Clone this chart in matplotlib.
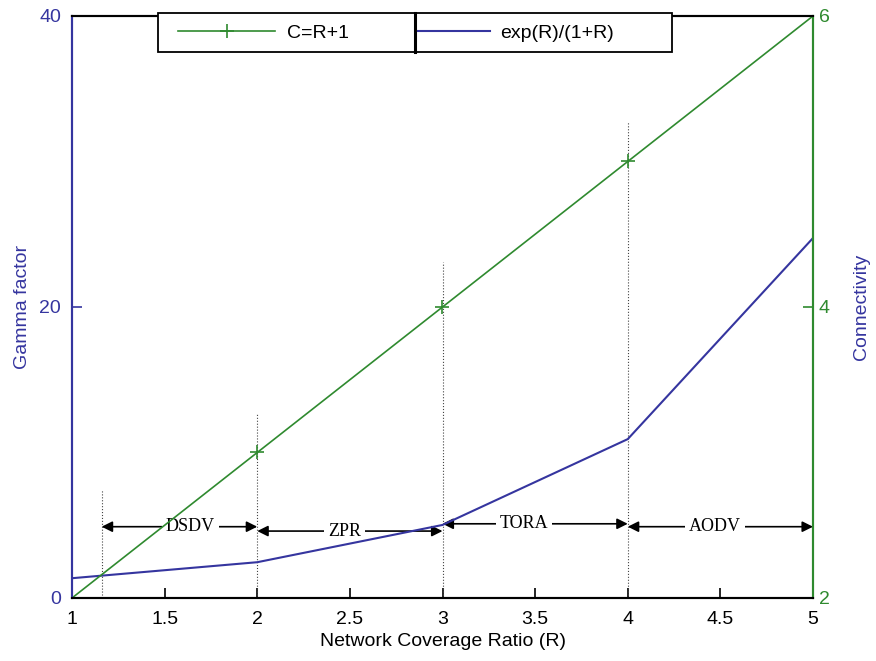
import numpy as np
import matplotlib.pyplot as plt
from matplotlib.lines import Line2D
from matplotlib.patches import Rectangle

plt.rcParams['font.family'] = ['Liberation Sans', 'DejaVu Sans']

# donnees
R = [1, 2, 3, 4, 5]
gamma = [1.36, 2.46, 5.02, 10.92, 24.74]      # exp(R)/(1+R)
connectivite = [2, 3, 4, 5, 6]               # C = R + 1

# lignes verticales pointillees (x, hauteur sur l'axe gauche)
sep_x = [1.16, 2, 3, 4]
sep_haut = [7.4, 12.7, 23.1, 32.8]

# zones des protocoles
protocoles = ["DSDV", "ZPR", "TORA", "AODV"]
zone_debut = [1.16, 2, 3, 4]
zone_fin = [2, 3, 4, 5]
zone_y = [4.9, 4.6, 5.1, 4.9]
texte_x = [1.64, 2.47, 3.44, 4.47]

bleu = '#35359f'
vert = '#2f8a2f'

fig = plt.figure(figsize=(8.76, 6.61), dpi=100)
ax = fig.add_axes([72/876, 63/661, 741/876, 582/661])
ax2 = ax.twinx()

ligne_b, = ax.plot(R, gamma, color=bleu, lw=1.5, label='exp(R)/(1+R)', zorder=4)
ligne_v, = ax2.plot(R, connectivite, color=vert, lw=1.2, marker='+', ms=10, mew=1.2,
                    label='C=R+1')

for x, h in zip(sep_x, sep_haut):
    ax.plot([x, x], [0, h], color='#444444', lw=0.8, ls=':')

for nom, a, b, y, tx in zip(protocoles, zone_debut, zone_fin, zone_y, texte_x):
    ax.annotate('', xy=(a, y), xytext=(b, y),
                arrowprops=dict(arrowstyle='<|-|>', color='black', lw=1.2,
                                mutation_scale=16, shrinkA=0, shrinkB=0))
    ax.text(tx, y, nom, ha='center', va='center', fontsize=13, zorder=3,
            family=['Liberation Serif', 'DejaVu Serif'],
            bbox=dict(fc='white', ec='none', pad=3))

ax.set_xlim(1, 5)
ax.set_ylim(0, 40)
ax2.set_ylim(2, 6)
ax.set_xticks(np.arange(1, 5.01, 0.5))
ax.set_xticklabels(['1', '1.5', '2', '2.5', '3', '3.5', '4', '4.5', '5'])
ax.set_yticks([0, 20, 40])
ax2.set_yticks([2, 4, 6])

ax.tick_params(axis='x', direction='in', labelsize=14, length=7, width=1.2, pad=9)
ax.tick_params(axis='y', direction='in', labelsize=14, colors=bleu, length=7, width=1.2, pad=8)
ax2.tick_params(axis='y', direction='in', labelsize=14, colors=vert, length=7, width=1.2, pad=4)

for a in (ax, ax2):
    a.spines['left'].set_color(bleu)
    a.spines['right'].set_color(vert)
    for s in a.spines.values():
        s.set_linewidth(1.5)
    a.spines['top'].set_color('black')
    a.spines['bottom'].set_color('black')

ax.set_xlabel('Network Coverage Ratio (R)', fontsize=14, labelpad=4)
ax.set_ylabel('Gamma factor', fontsize=14, color=bleu, labelpad=6)
ax2.set_ylabel('Connectivity', fontsize=14, color=bleu, labelpad=17)

# cadre de la legende + separation
ax2.add_patch(Rectangle((0.116, 0.938), 0.694, 0.067, transform=ax2.transAxes,
                        fc='white', ec='black', lw=1.3, clip_on=False, zorder=5))
ax2.add_line(Line2D([0.463, 0.463], [0.938, 1.005], transform=ax2.transAxes,
                    color='black', lw=2.2, clip_on=False, zorder=6))

leg1 = ax2.legend([ligne_v], ['C=R+1'], loc='center left', bbox_to_anchor=(0.143, 0.971),
                  frameon=False, fontsize=14, borderpad=0, borderaxespad=0,
                  handlelength=5.0, handletextpad=0.6)
leg1.set_zorder(7)
ax2.add_artist(leg1)
leg2 = ax2.legend([ligne_b], ['exp(R)/(1+R)'], loc='center left', bbox_to_anchor=(0.467, 0.971),
                  frameon=False, fontsize=14, borderpad=0, borderaxespad=0,
                  handlelength=3.7, handletextpad=0.5)
leg2.set_zorder(7)

fig.savefig('out.png', dpi=100)
